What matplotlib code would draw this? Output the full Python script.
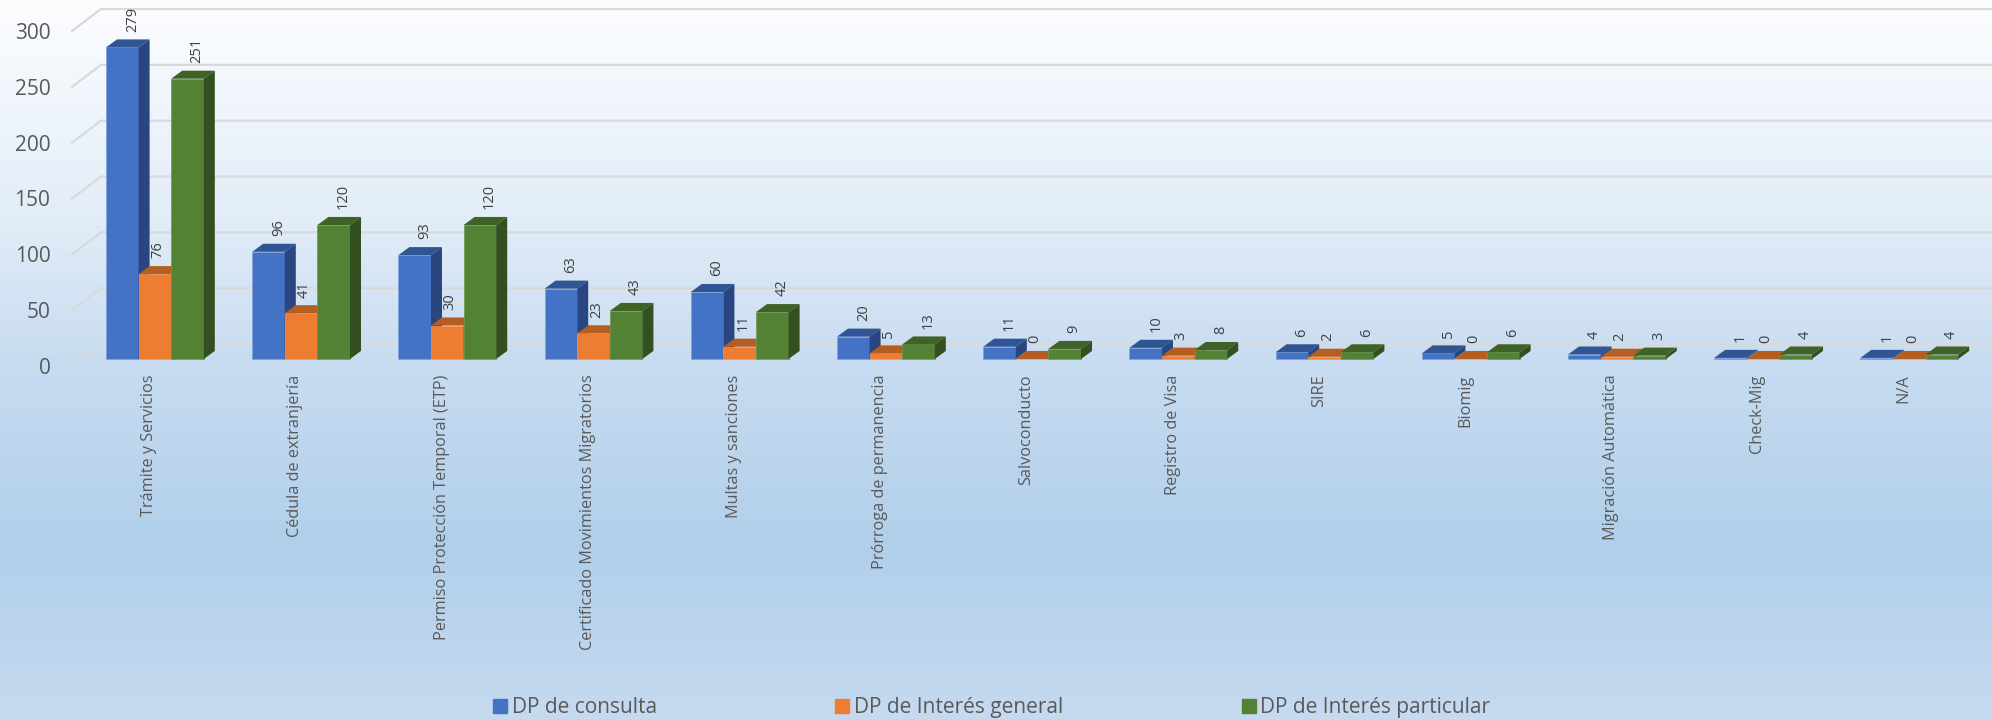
import numpy as np
import matplotlib
matplotlib.use('Agg')
import matplotlib.pyplot as plt
from matplotlib.colors import LinearSegmentedColormap
from matplotlib.patches import Patch
from matplotlib.transforms import ScaledTranslation

# Datos del grafico
categorias = ['Trámite y Servicios', 'Cédula de extranjería', 'Permiso Protección Temporal (ETP)',
              'Certificado Movimientos Migratorios', 'Multas y sanciones', 'Prórroga de permanencia',
              'Salvoconducto', 'Registro de Visa', 'SIRE', 'Biomig', 'Migración Automática',
              'Check-Mig', 'N/A']
dp_consulta = [279, 96, 93, 63, 60, 20, 11, 10, 6, 5, 4, 1, 1]
dp_general = [76, 41, 30, 23, 11, 5, 0, 3, 2, 0, 2, 0, 0]
dp_particular = [251, 120, 120, 43, 42, 13, 9, 8, 6, 6, 3, 4, 4]
nombres = ['DP de consulta', 'DP de Interés general', 'DP de Interés particular']
y_ticks = [0, 50, 100, 150, 200, 250, 300]

plt.rcParams['font.family'] = ['Open Sans', 'DejaVu Sans']
W, H = 1992, 719
fig = plt.figure(figsize=(W / 100, H / 100), dpi=100)

# Fondo con degradado
fondo = LinearSegmentedColormap.from_list('fondo', [(0, '#fcfdff'), (0.3, '#e2edf8'), (0.5, '#c8dcf1'),
                                                    (0.76, '#b1cfea'), (1, '#c6daf0')])
ax_bg = fig.add_axes([0, 0, 1, 1], zorder=0)
ax_bg.imshow(np.linspace(0, 1, 256).reshape(-1, 1), aspect='auto', cmap=fondo)
ax_bg.axis('off')

# Ejes: y=0 cae en el pixel 359 y 300 en el 24
ax = fig.add_axes([81.65 / W, (H - 359) / H, (W - 81.65) / W, 335 / H], zorder=1)
ax.patch.set_alpha(0)
ax.set_xlim(0, (W - 81.65) / 146.2)
ax.set_ylim(0, 300)
for s in ax.spines.values():
    s.set_visible(False)

# Rejilla de la pared del fondo y del piso lateral
for v in y_ticks:
    ax.plot([-0.066, 0.132, ax.get_xlim()[1]], [v - 6.3, v + 13.4, v + 13.4], color='#d9d9d9', lw=1.6,
            clip_on=False, zorder=1)

ancho = 0.223
dx, dy = 0.0752, 7.2
series = [dp_consulta, dp_general, dp_particular]
colores = ['#4472c4', '#ed7d31', '#548235']
lados = ['#294680', '#8f4c1e', '#355020']
techos = ['#305594', '#b55e22', '#3f6327']
bordes = ['#7fa0dc', '#f39a5e', '#6f9a50']
desp_etiqueta = [10, 3, 9.5]

x = np.arange(len(categorias))
for j, vals in enumerate(series):
    xs = x + 0.1666 + j * ancho
    ax.bar(xs, vals, ancho, align='edge', color=colores[j], edgecolor=bordes[j], linewidth=0.5,
           clip_on=False, zorder=3 + j)
    for xi, v in zip(xs, vals):
        ax.fill([xi, xi + dx, xi + ancho + dx, xi + ancho], [v, v + dy, v + dy, v],
                color=techos[j], lw=0, clip_on=False, zorder=3 + j)
        ax.fill([xi + ancho, xi + ancho + dx, xi + ancho + dx, xi + ancho], [0, dy, v + dy, v],
                color=lados[j], lw=0, clip_on=False, zorder=3 + j)
        ax.annotate(str(v), (xi + ancho / 2, v + dy), xytext=(desp_etiqueta[j] * 0.72, 5.5),
                    textcoords='offset points', rotation=90, ha='center', va='bottom',
                    fontsize=10.5, color='#404040', annotation_clip=False, zorder=8)

# Etiquetas de los ejes
ax.set_xticks(x + 0.5)
ax.set_xticklabels(categorias, rotation=90, ha='center', va='top', fontsize=11.7, color='#595959')
ax.tick_params(axis='x', length=0, pad=11)
for t in ax.get_xticklabels():
    t.set_transform(t.get_transform() + ScaledTranslation(-5.5 / 100, 0, fig.dpi_scale_trans))
ax.set_yticks(y_ticks)
ax.tick_params(axis='y', length=0, pad=22.5, labelsize=15, labelcolor='#595959')
for t in ax.get_yticklabels():
    t.set_transform(t.get_transform() + ScaledTranslation(0, -7 / 100, fig.dpi_scale_trans))

# Leyenda
handles = [Patch(color=c, label=n) for c, n in zip(colores, nombres)]
fig.legend(handles=handles, ncols=3, loc='center left', bbox_to_anchor=(493 / W, (H - 707.5) / H),
           frameon=False, fontsize=15, labelcolor='#595959', handlelength=0.67, handleheight=0.67,
           handletextpad=0.24, columnspacing=8.55, borderpad=0, borderaxespad=0)

fig.savefig('out.png', dpi=100)
